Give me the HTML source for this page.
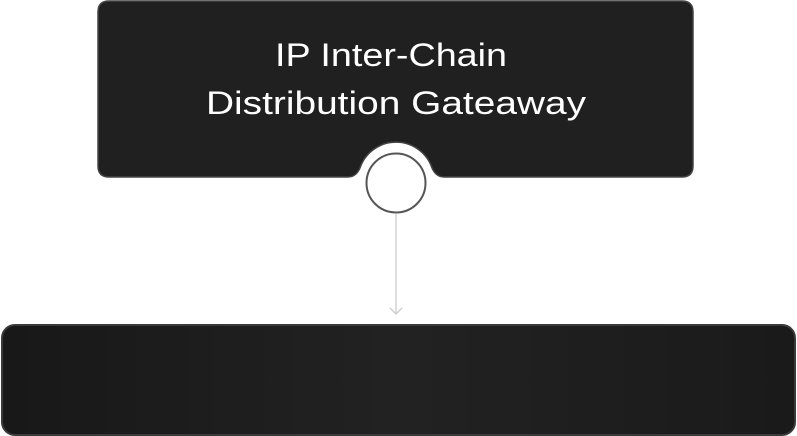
<!DOCTYPE html>
<html><head><style>
html,body{margin:0;padding:0;background:#fff;width:797px;height:436px;overflow:hidden}
</style></head><body>
<svg width="797" height="436" viewBox="0 0 797 436" xmlns="http://www.w3.org/2000/svg">
<defs>
<linearGradient id="g" x1="0" x2="1" y1="0" y2="0">
<stop offset="0" stop-color="#181818"/><stop offset="0.5" stop-color="#222"/><stop offset="1" stop-color="#1a1a1a"/>
</linearGradient>
</defs>
<path d="M109,1 H682 Q693,1 693,12 V166 Q693,177 682,177 H444 Q436,177 432,168 A38 38 0 0 0 360,168 Q356,177 348,177 H109 Q98,177 98,166 V12 Q98,1 109,1 Z" fill="#202020" stroke="#444" stroke-width="1.5"/>
<text x="391" y="66" text-anchor="middle" font-family="Liberation Sans, sans-serif" font-size="32" fill="#fff" textLength="232" lengthAdjust="spacingAndGlyphs">IP Inter-Chain</text>
<text x="396" y="114" text-anchor="middle" font-family="Liberation Sans, sans-serif" font-size="32" fill="#fff" textLength="380" lengthAdjust="spacingAndGlyphs">Distribution Gateaway</text>
<circle cx="396" cy="183" r="29.5" fill="#fff" stroke="#555" stroke-width="2"/>
<line x1="396" y1="214" x2="396" y2="314" stroke="#ccc" stroke-width="1.3"/>
<path d="M390,308 L396,314 L402,308" fill="none" stroke="#ccc" stroke-width="1.3"/>
<rect x="2" y="325" width="793" height="110" rx="13" fill="url(#g)" stroke="#3a3a3a" stroke-width="2"/>
</svg>
</body></html>
